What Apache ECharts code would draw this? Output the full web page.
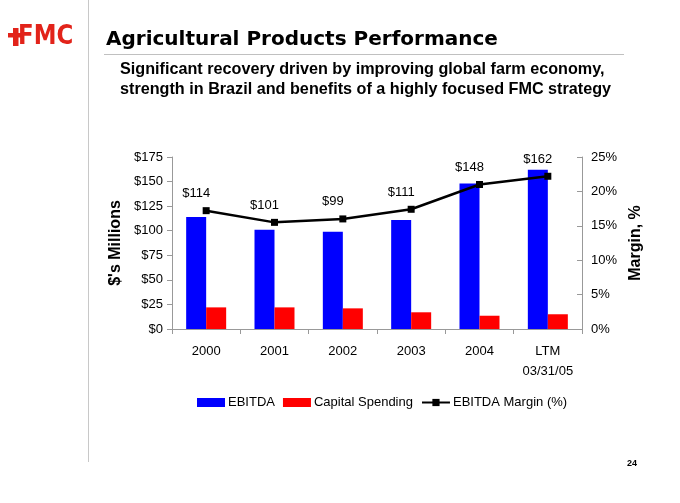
<!DOCTYPE html>
<html>
<head>
<meta charset="utf-8">
<script src="https://cdn.jsdelivr.net/npm/echarts@6/dist/echarts.min.js"></script>
<style>
html,body{margin:0;padding:0;background:#fff;}
#chart{width:680px;height:503px;}
</style>
</head>
<body>
<div id="chart"></div>
<script>
var categories = ['2000', '2001', '2002', '2003', '2004', 'LTM\n03/31/05'];
var ebitda = [114, 101, 99, 111, 148, 162];
var capitalSpending = [22, 22, 21, 17, 13.5, 15];
var ebitdaMargin = [17.2, 15.5, 16.0, 17.4, 21.0, 22.2];
var leftTicks = {min: 0, max: 175, interval: 25};
var rightTicks = {min: 0, max: 25, interval: 5};

var FONT = '"Liberation Sans", Arial, sans-serif';
var HEAVY = '"DejaVu Sans", sans-serif';
var chart = echarts.init(document.getElementById('chart'), null, {renderer: 'canvas'});

var option = {
  backgroundColor: '#ffffff',
  animation: false,
  textStyle: {fontFamily: FONT},
  grid: {left: 172, right: 98, top: 157, bottom: 174},
  legend: {
    left: 197, top: 396, padding: 0,
    itemWidth: 28, itemHeight: 9, itemGap: 8,
    textStyle: {fontFamily: FONT, fontSize: 13, color: '#000', padding: [0,0,0,-2]},
    data: [
      {name: 'EBITDA', icon: 'rect'},
      {name: 'Capital Spending', icon: 'rect'},
      {name: 'EBITDA Margin (%)'}
    ]
  },
  xAxis: {
    type: 'category',
    data: categories,
    axisLine: {lineStyle: {color: '#999', width: 1}},
    axisTick: {show: true, length: 5, lineStyle: {color: '#999'}},
    axisLabel: {fontFamily: FONT, fontSize: 13, color: '#000', margin: 12, lineHeight: 20}
  },
  yAxis: [{
    type: 'value',
    min: leftTicks.min, max: leftTicks.max, interval: leftTicks.interval,
    name: "$'s Millions", nameLocation: 'middle', nameRotate: 90, nameGap: 46,
    nameTextStyle: {fontFamily: FONT, fontSize: 16, fontWeight: 'bold', color: '#000'},
    axisLine: {show: true, lineStyle: {color: '#999'}},
    axisTick: {show: true, length: 5, lineStyle: {color: '#999'}},
    splitLine: {show: false},
    axisLabel: {fontFamily: FONT, fontSize: 13, color: '#000', margin: 9, formatter: function(v){return '$' + v;}}
  }, {
    type: 'value',
    min: rightTicks.min, max: rightTicks.max, interval: rightTicks.interval,
    name: 'Margin, %', nameLocation: 'middle', nameRotate: 90, nameGap: 43,
    nameTextStyle: {fontFamily: FONT, fontSize: 16, fontWeight: 'bold', color: '#000'},
    axisLine: {show: true, lineStyle: {color: '#999'}},
    axisTick: {show: true, inside: true, length: 5, lineStyle: {color: '#999'}},
    splitLine: {show: false},
    axisLabel: {fontFamily: FONT, fontSize: 13, color: '#000', margin: 9, formatter: function(v){return v + '%';}}
  }],
  series: [{
    name: 'EBITDA', type: 'bar', data: ebitda, barWidth: 20, barGap: '0%',
    itemStyle: {color: '#0000ff'}
  }, {
    name: 'Capital Spending', type: 'bar', data: capitalSpending, barWidth: 20, barGap: '0%',
    itemStyle: {color: '#ff0000'}
  }, {
    name: 'EBITDA Margin (%)', type: 'line', yAxisIndex: 1, data: ebitdaMargin,
    symbol: 'rect', symbolSize: 7, z: 5,
    lineStyle: {color: '#000', width: 2.5},
    itemStyle: {color: '#000'},
    label: {show: true, position: 'top', distance: 7, offset: [-10, 0],
      fontFamily: FONT, fontSize: 13, color: '#000',
      formatter: function(p){return '$' + ebitda[p.dataIndex];}}
  }],
  graphic: [
    {type: 'line', shape: {x1: 88.5, y1: 0, x2: 88.5, y2: 462}, style: {stroke: '#c8c8c8', lineWidth: 1}},
    {type: 'line', shape: {x1: 104, y1: 54.5, x2: 624, y2: 54.5}, style: {stroke: '#c0c0c0', lineWidth: 1}},
    {type: 'text', x: 106, y: 40, style: {text: 'Agricultural Products Performance', font: 'bold 20px ' + HEAVY, fill: '#000', verticalAlign: 'middle'}},
    {type: 'text', x: 120, y: 69.5, style: {text: 'Significant recovery driven by improving global farm economy,', font: 'bold 16.2px ' + FONT, fill: '#000', verticalAlign: 'middle'}},
    {type: 'text', x: 120, y: 89.5, style: {text: 'strength in Brazil and benefits of a highly focused FMC strategy', font: 'bold 16.2px ' + FONT, fill: '#000', verticalAlign: 'middle'}},
    {type: 'rect', shape: {x: 8, y: 33, width: 14, height: 4.5}, style: {fill: '#e2231a'}},
    {type: 'rect', shape: {x: 13, y: 28, width: 5.5, height: 18}, style: {fill: '#e2231a'}},
    {type: 'text', x: 18, y: 37, scaleX: 0.88, style: {text: 'FMC', font: 'bold 26px ' + HEAVY, fill: '#e2231a', verticalAlign: 'middle'}},
    {type: 'text', x: 632, y: 464, style: {text: '24', font: 'bold 9px ' + FONT, fill: '#000', align: 'center', verticalAlign: 'middle'}}
  ]
};
chart.setOption(option);
</script>
</body>
</html>
